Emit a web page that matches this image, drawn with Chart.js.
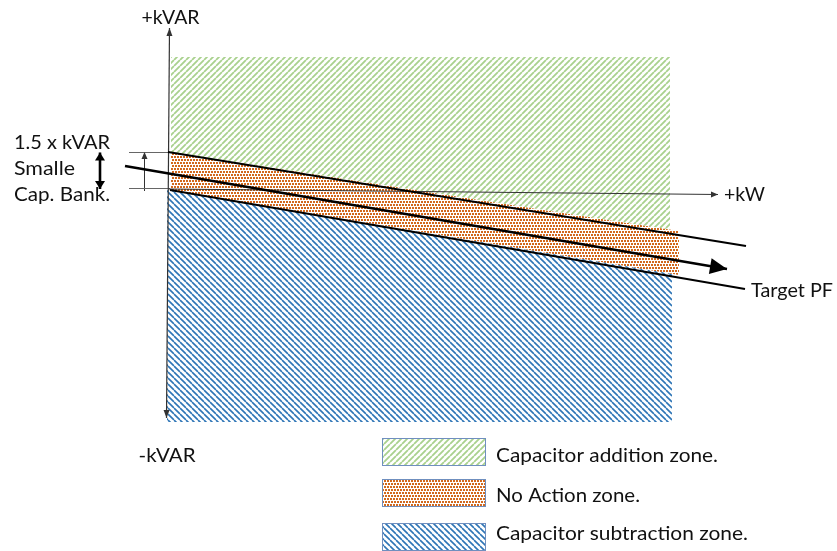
<!DOCTYPE html>
<html>
<head>
<meta charset="utf-8">
<script src="https://cdn.jsdelivr.net/npm/chart.js@4.4.1/dist/chart.umd.min.js"></script>
<style>
  html, body { margin: 0; padding: 0; background: #fff; }
  canvas { display: block; }
</style>
</head>
<body>
<canvas id="chart" width="837" height="551"></canvas>
<script>
// plane in kW (x) / kVAR (y) units, origin where the axes cross
const additionZone = [{x: 0.4, y: 26.2}, {x: 100.2, y: 26.2}, {x: 100.2, y: -8.3}, {x: 0.4, y: 7.2}];
const noActionZone = [{x: 0.4, y: 7.2}, {x: 102, y: -8.6}, {x: 102, y: -17.4}, {x: 0.4, y: -0.4}];
const subtractionZone = [{x: -0.4, y: -0.4}, {x: 100.6, y: -17.1}, {x: 100.6, y: -46.8}, {x: -0.4, y: -46.8}];

const upperLimit = [{x: -0.2, y: 7.2}, {x: 115.4, y: -11.6}];
const targetPF = [{x: 0.2, y: -0.4}, {x: 115.2, y: -20.2}];
const setPoint = [{x: -8.8, y: 4.4}, {x: 111.6, y: -16.2}];

const kwAxis = [{x: 0, y: -0.2}, {x: 109.8, y: -1.3}];
const kvarAxis = [{x: -0.5, y: -46}, {x: 0.1, y: 32}];

const bandTop = [{x: -8, y: 7.1}, {x: 0.2, y: 7.1}];
const bandBottom = [{x: -8, y: -0.1}, {x: 0.2, y: -0.1}];
const bandSpan = [{x: -4.9, y: -0.6}, {x: -4.9, y: 7.2}];
const bankArrow = [{x: -13.8, y: -0.2}, {x: -13.8, y: 7.1}];

const axisLabels = ['+kVAR', '-kVAR', '+kW', 'Target PF'];
const noteLines = ['1.5 x kVAR', 'Smalle', 'Cap. Bank.'];
const legendLabels = ['Capacitor addition zone.', 'No Action zone.', 'Capacitor subtraction zone.'];

const canvas = document.getElementById('chart');
const ctx = canvas.getContext('2d');

function makePattern(size, draw) {
    const c = document.createElement('canvas');
    c.width = c.height = size;
    const g = c.getContext('2d');
    g.fillStyle = '#fff';
    g.fillRect(0, 0, size, size);
    draw(g, size);
    return ctx.createPattern(c, 'repeat');
}

const greenHatch = makePattern(6, (g, s) => {
    g.strokeStyle = '#a9d18e';
    g.lineWidth = 1.8;
    g.beginPath();
    for (let o = -s; o <= s; o += s) {
        g.moveTo(o, s);
        g.lineTo(o + s, 0);
    }
    g.stroke();
});
const blueHatch = makePattern(6, (g, s) => {
    g.strokeStyle = '#2e75b6';
    g.lineWidth = 1.6;
    g.beginPath();
    for (let o = -s; o <= s; o += s) {
        g.moveTo(o, 0);
        g.lineTo(o + s, s);
    }
    g.stroke();
});
const orangeDots = makePattern(6, (g) => {
    g.fillStyle = '#d2691e';
    g.fillRect(0, 0, 2, 2);
    g.fillRect(3, 0, 2, 2);
    g.fillRect(1, 3, 2, 2);
    g.fillRect(4, 3, 2, 2);
});

function zone(data, fillStyle) {
    return {data: data, fill: 'shape', backgroundColor: fillStyle, borderColor: 'rgba(0,0,0,0)', borderWidth: 0, order: 3};
}

function line(data, color, width, extra) {
    return Object.assign({data: data, fill: false, borderColor: color, borderWidth: width, order: 1}, extra || {});
}

function arrowHead(c, from, to, size, color) {
    const a = Math.atan2(to.y - from.y, to.x - from.x);
    c.save();
    c.translate(to.x, to.y);
    c.rotate(a);
    c.beginPath();
    c.moveTo(0, 0);
    c.lineTo(-size[0], -size[1] / 2);
    c.lineTo(-size[0], size[1] / 2);
    c.closePath();
    c.fillStyle = color;
    c.fill();
    c.restore();
}

// draw text so it spans a given width in pixels
function fitText(c, text, px, py, size, width) {
    c.save();
    c.font = size + 'px Lato';
    c.textBaseline = 'alphabetic';
    c.fillStyle = '#111';
    const w = c.measureText(text).width;
    c.translate(px, py);
    c.scale(width / w, 1);
    c.fillText(text, 0, 0);
    c.restore();
}

const overlay = {
    id: 'overlay',
    afterDatasetsDraw(chart) {
        const c = chart.ctx;
        const sx = chart.scales.x, sy = chart.scales.y;
        chart.data.datasets.forEach((ds, i) => {
            const pts = chart.getDatasetMeta(i).data;
            if (ds.arrowEnd) arrowHead(c, pts[pts.length - 2], pts[pts.length - 1], ds.arrowEnd, ds.borderColor);
            if (ds.arrowStart) arrowHead(c, pts[1], pts[0], ds.arrowStart, ds.borderColor);
        });

        // legend boxes
        const fills = [greenHatch, orangeDots, blueHatch];
        const boxTops = [-50, -58.2, -67];
        const baselines = [-54.7, -62.7, -70.3];
        const widths = [222, 144, 252];
        const left = sx.getPixelForValue(42.6), right = sx.getPixelForValue(63.4);
        fills.forEach((f, i) => {
            const top = sy.getPixelForValue(boxTops[i]);
            const bottom = sy.getPixelForValue(boxTops[i] - 5.6);
            c.fillStyle = f;
            c.fillRect(left, top, right - left, bottom - top);
            c.strokeStyle = '#6f8fbf';
            c.lineWidth = 1;
            c.strokeRect(left + 0.5, top + 0.5, right - left - 1, bottom - top - 1);
            fitText(c, legendLabels[i], sx.getPixelForValue(65.4), sy.getPixelForValue(baselines[i]), 20, widths[i]);
        });

        fitText(c, axisLabels[0], sx.getPixelForValue(-5.5), sy.getPixelForValue(32.8), 19, 58);
        fitText(c, axisLabels[1], sx.getPixelForValue(-6.1), sy.getPixelForValue(-54.8), 19, 57);
        fitText(c, axisLabels[2], sx.getPixelForValue(111), sy.getPixelForValue(-2.6), 19, 41);
        fitText(c, axisLabels[3], sx.getPixelForValue(116.4), sy.getPixelForValue(-21.8), 19, 82);

        const noteY = [7.8, 2.7, -2.5];
        const noteW = [96, 61, 96];
        noteLines.forEach((t, i) => {
            fitText(c, t, sx.getPixelForValue(-31), sy.getPixelForValue(noteY[i]), 19, noteW[i]);
        });
    }
};

new Chart(ctx, {
    type: 'line',
    data: {
        datasets: [
            zone(additionZone, greenHatch),
            zone(noActionZone, orangeDots),
            zone(subtractionZone, blueHatch),
            line(upperLimit, '#000', 2),
            line(targetPF, '#000', 2),
            line(setPoint, '#000', 2.6, {arrowEnd: [17, 16]}),
            line(kwAxis, '#333', 1.2, {arrowEnd: [7, 6]}),
            line(kvarAxis, '#333', 1.2, {arrowEnd: [8, 6], arrowStart: [8, 6]}),
            line(bandTop, '#666', 1),
            line(bandBottom, '#666', 1),
            line(bandSpan, '#333', 1, {arrowEnd: [7, 6]}),
            line(bankArrow, '#000', 2.6, {arrowEnd: [8, 10], arrowStart: [8, 10]})
        ]
    },
    options: {
        responsive: false,
        animation: false,
        events: [],
        layout: {padding: 0},
        elements: {
            point: {radius: 0, hoverRadius: 0},
            line: {tension: 0}
        },
        scales: {
            x: {type: 'linear', min: -33.8, max: 133.6, display: false},
            y: {type: 'linear', min: -72.6, max: 37.6, display: false}
        },
        plugins: {
            legend: {display: false},
            tooltip: {enabled: false}
        }
    },
    plugins: [overlay]
});
</script>
</body>
</html>
